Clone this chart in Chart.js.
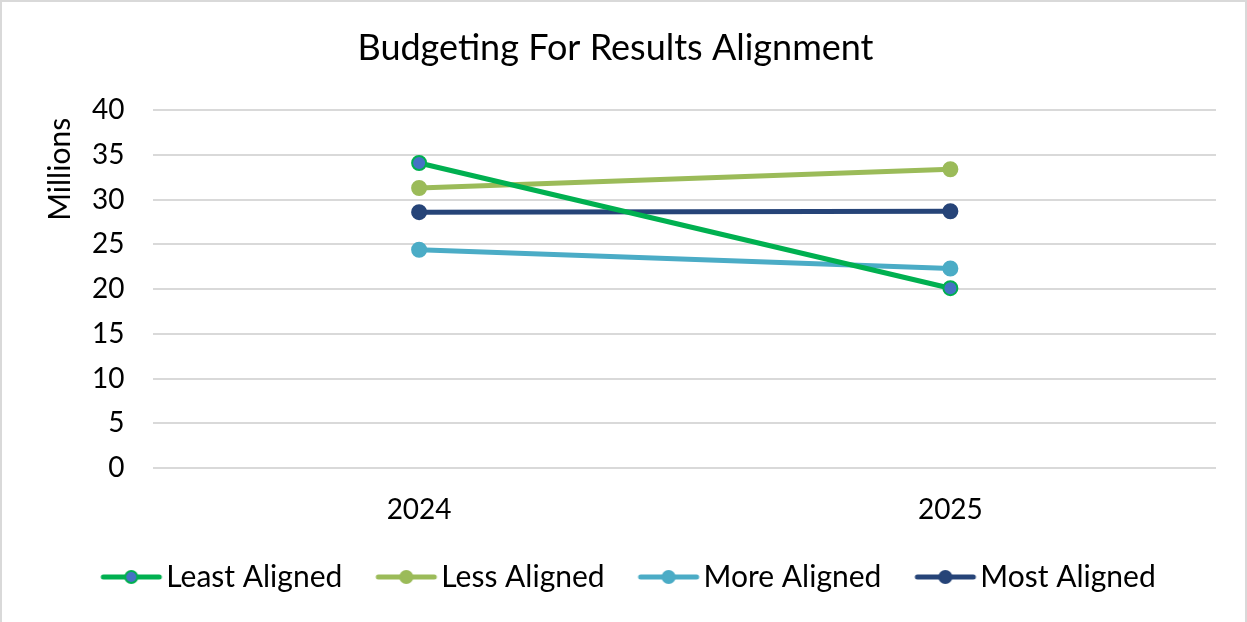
<!DOCTYPE html>
<html>
<head>
<meta charset="utf-8">
<script src="https://cdn.jsdelivr.net/npm/chart.js@4/dist/chart.umd.min.js"></script>
<style>
  body { margin: 0; background: #fff; }
  #wrap { position: absolute; left: 0; top: 0; width: 1243px; height: 620px; border: 2px solid #d9d9d9; border-bottom: none; background: #fff; }
</style>
</head>
<body>
<div id="wrap"><canvas id="myChart"></canvas></div>
<script>
const years = ["2024", "2025"];
const leastAligned = [34.1, 20.1];
const lessAligned = [31.3, 33.4];
const moreAligned = [24.4, 22.3];
const mostAligned = [28.6, 28.7];

const font = "Lato";

// legend sample: line with a dot, sits inside a wide transparent canvas
function legendIcon(line, fill, border) {
  const c = document.createElement("canvas");
  c.width = 140;
  c.height = 16;
  const g = c.getContext("2d");
  g.strokeStyle = line;
  g.lineWidth = 5;
  g.lineCap = "round";
  g.beginPath();
  g.moveTo(60, 8);
  g.lineTo(116, 8);
  g.stroke();
  g.beginPath();
  g.arc(88, 8, 6, 0, Math.PI * 2);
  g.fillStyle = fill;
  g.fill();
  g.lineWidth = 2;
  g.strokeStyle = border;
  g.stroke();
  return c;
}

const icons = [];

function series(label, data, color, fill) {
  icons.push(legendIcon(color, fill || color, color));
  return {
    label: label,
    data: data,
    borderColor: color,
    backgroundColor: fill || color,
    pointBackgroundColor: fill || color,
    pointBorderColor: color,
    pointBorderWidth: 2,
    pointRadius: 7,
    pointStyle: "circle",
    borderWidth: 5
  };
}

const ctx = document.getElementById("myChart");

new Chart(ctx, {
  type: "line",
  data: {
    labels: years,
    datasets: [
      series("Least Aligned", leastAligned, "#00B050", "#4472C4"),
      series("Less Aligned", lessAligned, "#9BBB59"),
      series("More Aligned", moreAligned, "#4BACC6"),
      series("Most Aligned", mostAligned, "#264478")
    ]
  },
  options: {
    responsive: true,
    maintainAspectRatio: false,
    animation: false,
    layout: { padding: { left: 13, right: 29, top: 25, bottom: 20 } },
    plugins: {
      title: {
        display: true,
        text: "Budgeting For Results Alignment",
        color: "#000",
        font: { family: font, size: 36, weight: "normal" },
        padding: { top: 0, bottom: 40 }
      },
      legend: {
        position: "bottom",
        labels: {
          usePointStyle: true,
          pointStyleWidth: 76,
          color: "#000",
          font: { family: font, size: 30 },
          padding: 8,
          generateLabels: function(chart) {
            const items = Chart.defaults.plugins.legend.labels.generateLabels(chart);
            items.forEach((it, i) => { it.pointStyle = icons[i]; });
            return items;
          }
        }
      },
      tooltip: { enabled: false }
    },
    scales: {
      x: {
        offset: true,
        grid: { display: false },
        border: { display: false },
        ticks: { color: "#000", font: { family: font, size: 28 }, padding: 17 },
        afterFit: function(scale) { scale.height = 86; }
      },
      y: {
        min: 0,
        max: 40,
        ticks: { stepSize: 5, color: "#000", font: { family: font, size: 28 }, padding: 29 },
        grid: { color: "#d9d9d9", lineWidth: 2, drawTicks: false },
        border: { display: false },
        title: {
          display: true,
          text: "Millions ",
          align: "end",
          color: "#000",
          font: { family: font, size: 30 },
          padding: { top: 27, bottom: -15 }
        }
      }
    }
  }
});
</script>
</body>
</html>
